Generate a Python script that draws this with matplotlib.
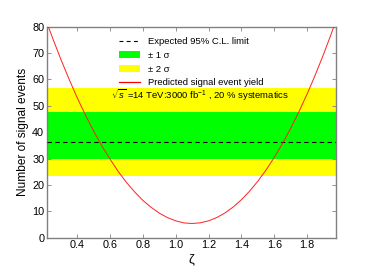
import matplotlib
matplotlib.use("Agg")
import matplotlib.pyplot as plt
from matplotlib.patches import Patch
from matplotlib.lines import Line2D

plt.rcParams['font.family'] = ['Liberation Sans', 'DejaVu Sans']
plt.rcParams['mathtext.fontset'] = 'custom'
plt.rcParams['mathtext.rm'] = 'Liberation Sans'
plt.rcParams['mathtext.it'] = 'Liberation Sans:italic'

# data
zeta = [0.22, 0.25, 0.30, 0.35, 0.40, 0.45, 0.50, 0.55, 0.60, 0.65, 0.70, 0.75,
        0.80, 0.85, 0.90, 0.95, 1.00, 1.05, 1.10, 1.15, 1.20, 1.25, 1.30, 1.35,
        1.40, 1.45, 1.50, 1.55, 1.60, 1.65, 1.70, 1.75, 1.80, 1.85, 1.90, 1.95, 2.00]
signal = [80.5, 75.5, 67.5, 60.0, 52.9, 46.4, 40.3, 34.7, 29.7, 25.0, 20.9, 17.3,
          14.1, 11.5, 9.3, 7.6, 6.4, 5.6, 5.4, 5.65, 6.4, 7.65, 9.4, 11.65,
          14.4, 17.65, 21.4, 25.65, 30.4, 35.65, 41.4, 47.65, 54.4, 61.65, 69.4, 77.65, 86.4]
expected_limit = 36.2
band_1sigma = (29.7, 47.8)
band_2sigma = (23.4, 56.8)
xticks = [0.4, 0.6, 0.8, 1.0, 1.2, 1.4, 1.6, 1.8]
yticks = [0, 10, 20, 30, 40, 50, 60, 70, 80]

fig = plt.figure(figsize=(3.74, 2.80), dpi=100)
ax = fig.add_axes([0.1257, 0.151, 0.772, 0.754])

xlim = (0.215, 1.975)
ax.axhspan(band_2sigma[0], band_2sigma[1], color='#ffff00', lw=0, zorder=1)
ax.axhspan(band_1sigma[0], band_1sigma[1], color='#00ff00', lw=0, zorder=2)
ax.axhline(expected_limit, color='black', ls=(0, (4, 3)), lw=0.8, zorder=3)
ax.plot(zeta, signal, color='#ff2020', lw=0.7, zorder=4)

ax.set_xlim(*xlim)
ax.set_ylim(0, 80)
ax.set_xticks(xticks)
ax.set_xticklabels([f"{t:.1f}" for t in xticks])
ax.set_yticks(yticks)

for s in ax.spines.values():
    s.set_color('#808080')
    s.set_linewidth(1.0)
ax.tick_params(direction='in', length=3, width=0.6, color='#808080',
               labelsize=7.8, top=True, right=True, pad=2)

ax.set_xlabel('ζ', fontsize=9.5, labelpad=2)
ax.set_ylabel('Number of signal events', fontsize=8.6, labelpad=2)

handles = [Line2D([], [], color='black', ls=(0, (3.5, 3)), lw=0.8),
           Patch(facecolor='#00ff00', edgecolor='none'),
           Patch(facecolor='#ffff00', edgecolor='none'),
           Line2D([], [], color='red', lw=0.9)]
labels = ['Expected 95% C.L. limit', '± 1 σ', '± 2 σ', 'Predicted signal event yield']
ax.legend(handles, labels, loc='upper center', bbox_to_anchor=(0.5, 0.99),
          frameon=False, fontsize=6.8, handlelength=2.2, handletextpad=0.9,
          labelspacing=0.5, handleheight=0.8)

ax.text(0.529, 0.676, r'$\sqrt{s}$ =14 TeV:3000 fb$^{-1}$ , 20 % systematics',
        transform=ax.transAxes, ha='center', va='center', fontsize=6.8, zorder=5)

fig.savefig('out.png', dpi=100)
